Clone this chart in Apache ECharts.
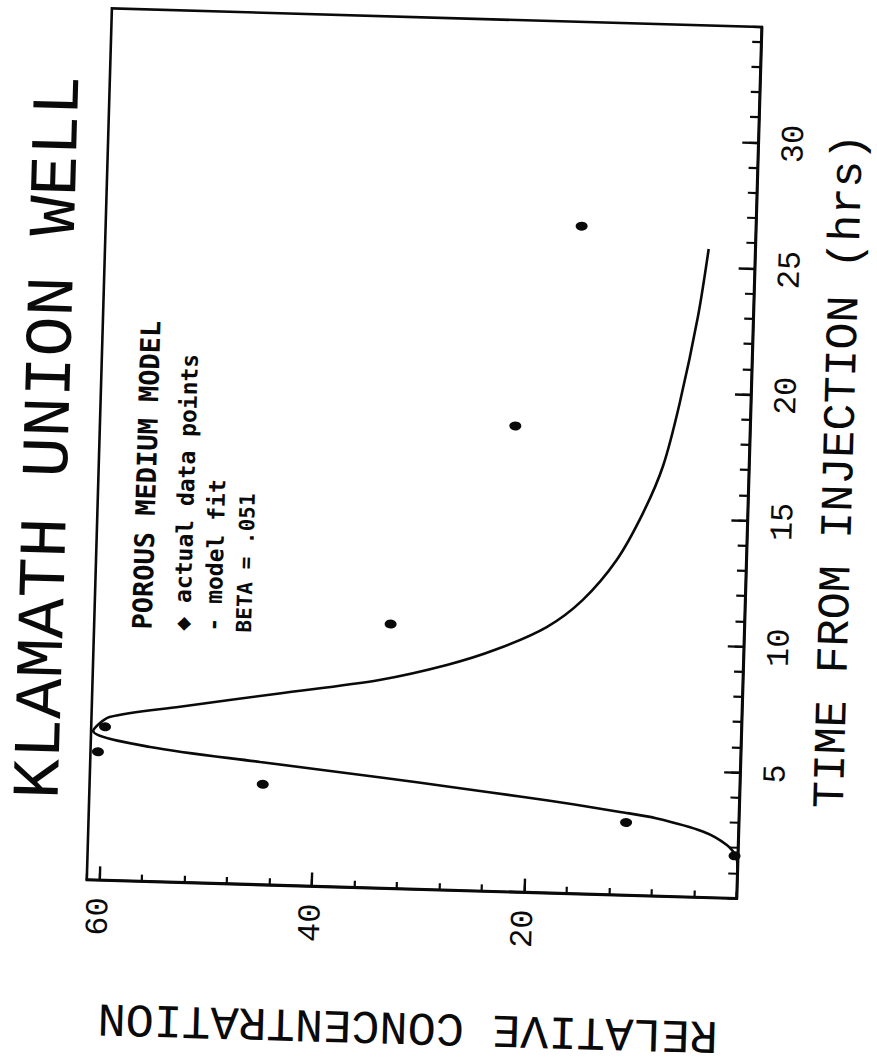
<!DOCTYPE html>
<html>
<head>
<meta charset="utf-8">
<script src="https://cdn.jsdelivr.net/npm/echarts@6/dist/echarts.min.js"></script>
<style>
html,body{margin:0;padding:0;width:877px;height:1061px;overflow:hidden;background:#fff;}
#chart{position:absolute;left:-92px;top:92px;width:1061px;height:877px;transform:rotate(-88.35deg);transform-origin:50% 50%;}
</style>
</head>
<body>
<div id="chart"></div>
<script>
// ---- texts ----
const titleText = 'KLAMATH UNION WELL';
const xName = 'TIME FROM INJECTION (hrs)';
const yName = 'RELATIVE CONCENTRATION';
const legendLines = ['POROUS MEDIUM MODEL', '\u25C6 actual data points', '- model fit', 'BETA = .051'];

// ---- tick labels ----
const timeLabels = [5, 10, 15, 20, 25, 30];
const concLabels = [20, 40, 60];

// ---- model fit curve (time in hrs, relative concentration) ----
const curveTime = [1.2, 1.65, 2.12, 2.62, 3.10, 3.31, 3.55, 3.80, 4.10, 4.40, 4.88, 5.35, 5.92,
                   6.49, 6.98, 7.62, 8.27, 8.94, 9.63, 10.56, 11.67, 13.3, 15.19, 17.08, 19.6, 23.07, 25.74];
const curveConc = [0, 0.14, 1.06, 3.3, 7.8, 11.2, 15.5, 20.5, 27.0, 33.8, 45.2, 55.6, 61.0,
                   59.5, 52.9, 43.6, 34.2, 27.9, 23.2, 18.6, 15.3, 12.2, 9.85, 8.09, 6.69, 5.2, 4.38];

// ---- actual data points ----
const pointTime = [1.7, 2.9, 4.0, 5.1, 6.1, 10.5, 18.5, 26.5];
const pointConc = [0.3, 10.6, 44.9, 60.5, 59.9, 33.3, 22.1, 16.4];

const ink = '#0a0a0a';
const chart = echarts.init(document.getElementById('chart'), null, {renderer: 'svg'});

const option = {
  animation: false,
  backgroundColor: '#fff',
  grid: {left: 171, right: 18, top: 97, bottom: 130, show: true, borderColor: ink, borderWidth: 2.6, backgroundColor: 'transparent'},
  xAxis: [
    {
      type: 'value', min: 0, max: 34.6, interval: 5, position: 'bottom',
      axisLine: {show: true, lineStyle: {color: ink, width: 2.6}},
      axisTick: {show: true, inside: true, length: 16, lineStyle: {color: ink, width: 2.4}},
      axisLabel: {show: true, margin: 20, showMinLabel: false, showMaxLabel: false,
        fontFamily: 'Liberation Mono', fontSize: 32, color: ink,
        formatter: v => timeLabels.includes(v) ? String(v) : ''},
      splitLine: {show: false},
      name: xName, nameLocation: 'middle', nameGap: 77,
      nameTextStyle: {fontFamily: 'Liberation Mono', fontSize: 45, lineHeight: 30, color: ink, padding: [0, 11, 0, 0]}
    },
    {
      type: 'value', min: 0, max: 34.6, interval: 1, position: 'bottom',
      axisLine: {show: false},
      axisTick: {show: true, inside: true, length: 9, lineStyle: {color: ink, width: 2.2}},
      axisLabel: {show: false}, splitLine: {show: false}
    }
  ],
  yAxis: [
    {
      type: 'value', min: 0, max: 61.2, interval: 20, position: 'left',
      axisLine: {show: true, lineStyle: {color: ink, width: 2.6}},
      axisTick: {show: true, inside: true, length: 14, lineStyle: {color: ink, width: 2.4}},
      axisLabel: {show: true, margin: 17, showMinLabel: false, showMaxLabel: false,
        fontFamily: 'Liberation Mono', fontSize: 32, color: ink,
        formatter: v => concLabels.includes(v) ? String(v) : ''},
      splitLine: {show: false},
      name: yName, nameLocation: 'middle', nameGap: 113,
      nameTextStyle: {fontFamily: 'Liberation Mono', fontSize: 47, color: ink}
    },
    {
      type: 'value', min: 0, max: 61.2, interval: 4, position: 'left',
      axisLine: {show: false},
      axisTick: {show: true, inside: true, length: 7, lineStyle: {color: ink, width: 2.2}},
      axisLabel: {show: false}, splitLine: {show: false}
    }
  ],
  series: [
    {
      name: 'model fit', type: 'line', xAxisIndex: 0, yAxisIndex: 0,
      data: curveTime.map((t, i) => [t, curveConc[i]]),
      showSymbol: false, smooth: 0.3,
      lineStyle: {color: ink, width: 2.6}, silent: true, z: 3
    },
    {
      name: 'actual data points', type: 'scatter', xAxisIndex: 0, yAxisIndex: 0,
      data: pointTime.map((t, i) => [t, pointConc[i]]),
      symbol: 'circle', symbolSize: [9, 12], itemStyle: {color: ink, opacity: 1}, z: 4
    }
  ],
  graphic: [
    {type: 'text', x: 612.6, y: 47.5, style: {text: titleText, font: '67px "Liberation Mono"', lineHeight: 50, fill: ink, align: 'center', verticalAlign: 'middle'}},
    {type: 'text', x: 423, y: 145, style: {text: legendLines[0], font: 'bold 27px "DejaVu Sans Mono"', fill: ink, align: 'left', verticalAlign: 'middle'}},
    {type: 'text', x: 423, y: 185, style: {text: legendLines[1], font: 'bold 23px "DejaVu Sans Mono"', fill: ink, align: 'left', verticalAlign: 'middle'}},
    {type: 'text', x: 423, y: 216, style: {text: legendLines[2], font: 'bold 23px "DejaVu Sans Mono"', fill: ink, align: 'left', verticalAlign: 'middle'}},
    {type: 'text', x: 423, y: 247, style: {text: legendLines[3], font: 'bold 21px "DejaVu Sans Mono"', fill: ink, align: 'left', verticalAlign: 'middle'}}
  ]
};
chart.setOption(option);
</script>
</body>
</html>
